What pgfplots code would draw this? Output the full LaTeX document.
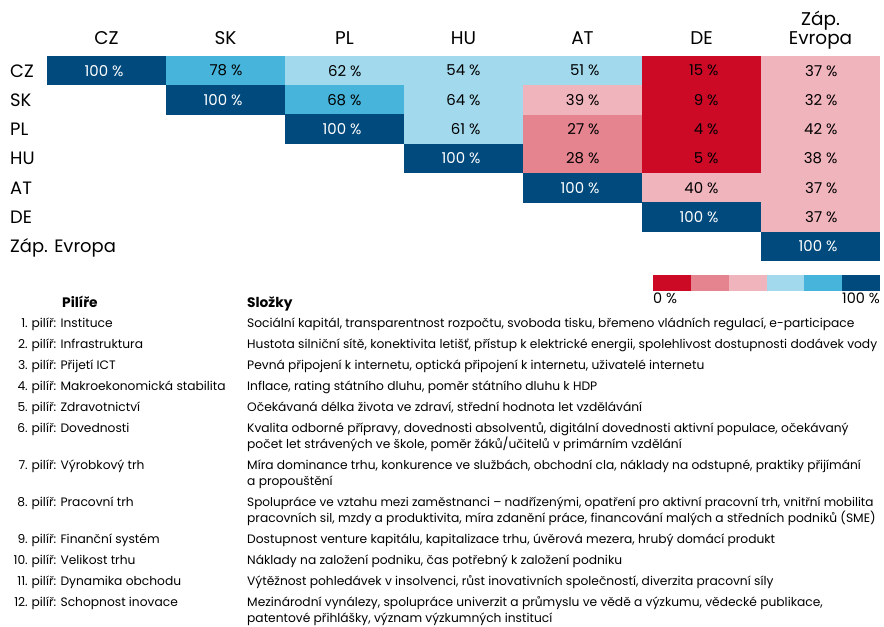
\documentclass[border=0pt]{standalone}
\usepackage{fontspec}
\setmainfont{Poppins}
\usepackage{pgfplots}
\usepackage{pgfplotstable}
\pgfplotsset{compat=1.18}
\definecolor{c0}{RGB}{204,10,38}
\definecolor{c1}{RGB}{229,131,143}
\definecolor{c2}{RGB}{240,180,188}
\definecolor{c3}{RGB}{163,217,236}
\definecolor{c4}{RGB}{70,180,219}
\definecolor{c5}{RGB}{0,74,125}
\pgfdeclareplotmark{cell}{\pgfpathrectangle{\pgfpoint{-59.7bp}{-14.85bp}}{\pgfpoint{119.4bp}{29.7bp}}\pgfusepathqfill}
\pgfplotsset{
  cellplot/.style={only marks, mark=cell, color=#1, point meta=explicit symbolic,
    nodes near coords={\makebox[0pt][r]{\pgfplotspointmeta~\%}},
    every node near coord/.append style={anchor=center, xshift=17bp, text=black,
      inner sep=0pt, font=\fontsize{15}{17}\selectfont}},
}
% x = column (CZ..Zap = 0..6), y = row (CZ = 6 ... Zap = 0), v = value in %
\pgfplotstableread{
x y v
0 6 100
1 5 100
2 4 100
3 3 100
4 2 100
5 1 100
6 0 100
}\classfive
\pgfplotstableread{
x y v
1 6 78
2 5 68
}\classfour
\pgfplotstableread{
x y v
2 6 62
3 6 54
4 6 51
3 5 64
3 4 61
}\classthree
\pgfplotstableread{
x y v
6 6 37
4 5 39
6 5 32
6 4 42
6 3 38
5 2 40
6 2 37
6 1 37
}\classtwo
\pgfplotstableread{
x y v
4 4 27
4 3 28
}\classone
\pgfplotstableread{
x y v
5 6 15
5 5 9
5 4 4
5 3 5
}\classzero
\newcommand\pil[3]{\node[anchor=base east,inner sep=0pt] at (28,#1) {#2.};
  \node[anchor=base west,inner sep=0pt] at (31.5,#1) {pilíř: #3};}
\newcommand\comp[2]{\node[anchor=base west,inner sep=0pt] at (247,#1) {#2};}
\begin{document}
\begin{tikzpicture}
\useasboundingbox (0,0) rectangle (884bp,-627bp);
\begin{axis}[
  at={(47bp,-56bp)}, anchor=north west,
  width=833bp, height=205bp, scale only axis,
  xmin=-0.5, xmax=6.5, ymin=-0.5, ymax=6.5,
  clip=false,
  axis line style={draw=none},
  major tick style={draw=none},
  xtick={0,...,6}, ytick={0,...,6},
  xticklabels={CZ,SK,PL,HU,AT,DE,{Záp.\\Evropa}},
  yticklabels={Záp. Evropa,DE,AT,HU,PL,SK,CZ},
  xticklabel pos=upper,
  xticklabel style={anchor=south, align=center, text depth=0pt, inner sep=0pt,
    yshift=11bp, font=\fontsize{18.5}{19}\selectfont},
  yticklabel style={anchor=base west, inner sep=0pt, xshift=-37bp, yshift=-6.5bp,
    font=\fontsize{18}{19}\selectfont},
]
\addplot[cellplot=c0] table[x=x,y=y,meta=v] {\classzero};
\addplot[cellplot=c1] table[x=x,y=y,meta=v] {\classone};
\addplot[cellplot=c2] table[x=x,y=y,meta=v] {\classtwo};
\addplot[cellplot=c3] table[x=x,y=y,meta=v] {\classthree};
\addplot[cellplot=c4] table[x=x,y=y,meta=v] {\classfour};
\addplot[cellplot=c5, every node near coord/.append style={text=white}] table[x=x,y=y,meta=v] {\classfive};
\end{axis}
\begin{axis}[
  at={(653bp,-275bp)}, anchor=north west,
  width=227bp, height=16bp, scale only axis,
  xmin=0, xmax=6, ymin=0, ymax=1, hide axis, clip=false,
]
\addplot[draw=none, fill=c0] coordinates {(0,1) (1,1)} \closedcycle;
\addplot[draw=none, fill=c1] coordinates {(1,1) (2,1)} \closedcycle;
\addplot[draw=none, fill=c2] coordinates {(2,1) (3,1)} \closedcycle;
\addplot[draw=none, fill=c3] coordinates {(3,1) (4,1)} \closedcycle;
\addplot[draw=none, fill=c4] coordinates {(4,1) (5,1)} \closedcycle;
\addplot[draw=none, fill=c5] coordinates {(5,1) (6,1)} \closedcycle;
\end{axis}
\begin{scope}[x=1bp,y=-1bp]
\node[anchor=base west,inner sep=0pt,font=\fontsize{14.5}{16}\selectfont] at (653,303) {0 \%};
\node[anchor=base east,inner sep=0pt,font=\fontsize{14.5}{16}\selectfont] at (880,303) {100 \%};
\node[anchor=base west,inner sep=0pt,font=\bfseries\fontsize{13.8}{15}\selectfont] at (62,307) {Pilíře};
\node[anchor=base west,inner sep=0pt,font=\bfseries\fontsize{13.8}{15}\selectfont] at (247,307) {Složky};
\begin{scope}[font=\fontsize{12.3}{14}\selectfont]
\pil{327}{1}{Instituce}
\pil{348}{2}{Infrastruktura}
\pil{369}{3}{Přijetí ICT}
\pil{390}{4}{Makroekonomická stabilita}
\pil{411}{5}{Zdravotnictví}
\pil{432}{6}{Dovednosti}
\pil{469}{7}{Výrobkový trh}
\pil{506}{8}{Pracovní trh}
\pil{543}{9}{Finanční systém}
\pil{564}{10}{Velikost trhu}
\pil{585}{11}{Dynamika obchodu}
\pil{606}{12}{Schopnost inovace}
\comp{327}{Sociální kapitál, transparentnost rozpočtu, svoboda tisku, břemeno vládních regulací, e-participace}
\comp{348}{Hustota silniční sítě, konektivita letišť, přístup k elektrické energii, spolehlivost dostupnosti dodávek vody}
\comp{369}{Pevná připojení k internetu, optická připojení k internetu, uživatelé internetu}
\comp{390}{Inflace, rating státního dluhu, poměr státního dluhu k HDP}
\comp{411}{Očekávaná délka života ve zdraví, střední hodnota let vzdělávání}
\comp{432}{Kvalita odborné přípravy, dovednosti absolventů, digitální dovednosti aktivní populace, očekávaný}
\comp{448}{počet let strávených ve škole, poměr žáků/učitelů v primárním vzdělání}
\comp{469}{Míra dominance trhu, konkurence ve službách, obchodní cla, náklady na odstupné, praktiky přijímání}
\comp{485}{a propouštění}
\comp{506}{\fontsize{12.1}{14}\selectfont Spolupráce ve vztahu mezi zaměstnanci – nadřízenými, opatření pro aktivní pracovní trh, vnitřní mobilita}
\comp{522}{pracovních sil, mzdy a produktivita, míra zdanění práce, financování malých a středních podniků (SME)}
\comp{543}{Dostupnost venture kapitálu, kapitalizace trhu, úvěrová mezera, hrubý domácí produkt}
\comp{564}{Náklady na založení podniku, čas potřebný k založení podniku}
\comp{585}{Výtěžnost pohledávek v insolvenci, růst inovativních společností, diverzita pracovní síly}
\comp{606}{Mezinárodní vynálezy, spolupráce univerzit a průmyslu ve vědě a výzkumu, vědecké publikace,}
\comp{622}{patentové přihlášky, význam výzkumných institucí}
\end{scope}
\end{scope}
\end{tikzpicture}
\end{document}
